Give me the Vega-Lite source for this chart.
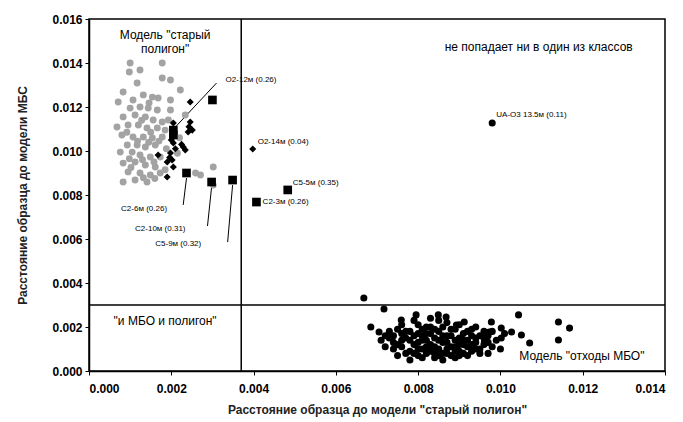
{
  "$schema": "https://vega.github.io/schema/vega-lite/v6.json",
  "autosize": "none",
  "width": 576,
  "height": 352,
  "padding": {"left": 89, "top": 19, "right": 18, "bottom": 51},
  "background": "white",
  "config": {
    "font": "Liberation Sans",
    "view": {"stroke": "black", "strokeWidth": 1.5},
    "axis": {"grid": false, "domainColor": "black", "tickColor": "black", "labelColor": "black", "titleColor": "#222222", "labelFont": "Liberation Sans", "titleFont": "Liberation Sans", "labelFontWeight": "bold", "labelFontSize": 12, "titleFontSize": 12, "titleFontWeight": "bold", "tickSize": 4, "domainWidth": 1.5}
  },
  "datasets": {
    "grey": [
      {"x":0.00100,"y":0.01400},{"x":0.00124,"y":0.01368},{"x":0.00098,"y":0.01359},{"x":0.00178,"y":0.01332},{"x":0.00198,"y":0.01323},{"x":0.00117,"y":0.01309},{"x":0.00083,"y":0.01268},{"x":0.00132,"y":0.01255},{"x":0.00154,"y":0.01245},{"x":0.00168,"y":0.01241},{"x":0.00198,"y":0.01232},{"x":0.00107,"y":0.01232},{"x":0.00071,"y":0.01223},{"x":0.00100,"y":0.01195},{"x":0.00124,"y":0.01200},{"x":0.00144,"y":0.01195},{"x":0.00166,"y":0.01186},{"x":0.00198,"y":0.01186},{"x":0.00083,"y":0.01155},{"x":0.00112,"y":0.01164},{"x":0.00137,"y":0.01155},{"x":0.00156,"y":0.01141},{"x":0.00178,"y":0.01132},{"x":0.00193,"y":0.01141},{"x":0.00068,"y":0.01109},{"x":0.00095,"y":0.01118},{"x":0.00120,"y":0.01118},{"x":0.00141,"y":0.01105},{"x":0.00166,"y":0.01105},{"x":0.00185,"y":0.01095},{"x":0.00080,"y":0.01073},{"x":0.00107,"y":0.01064},{"x":0.00132,"y":0.01064},{"x":0.00154,"y":0.01059},{"x":0.00178,"y":0.01064},{"x":0.00093,"y":0.01027},{"x":0.00117,"y":0.01027},{"x":0.00137,"y":0.01018},{"x":0.00161,"y":0.01027},{"x":0.00076,"y":0.00995},{"x":0.00105,"y":0.00995},{"x":0.00124,"y":0.00982},{"x":0.00149,"y":0.00973},{"x":0.00173,"y":0.00973},{"x":0.00083,"y":0.00945},{"x":0.00112,"y":0.00950},{"x":0.00137,"y":0.00936},{"x":0.00161,"y":0.00927},{"x":0.00095,"y":0.00905},{"x":0.00124,"y":0.00900},{"x":0.00149,"y":0.00891},{"x":0.00173,"y":0.00900},{"x":0.00083,"y":0.00859},{"x":0.00112,"y":0.00868},{"x":0.00141,"y":0.00859},{"x":0.00259,"y":0.00900},{"x":0.00271,"y":0.00891},{"x":0.00302,"y":0.00927},{"x":0.00302,"y":0.00845},{"x":0.00178,"y":0.01400},{"x":0.00222,"y":0.01277},{"x":0.00234,"y":0.01164},
      {"x":0.00146,"y":0.01218},{"x":0.00128,"y":0.01140},{"x":0.00150,"y":0.01085},{"x":0.00092,"y":0.01085},{"x":0.00118,"y":0.01045},{"x":0.00145,"y":0.01040},{"x":0.00170,"y":0.01045},{"x":0.00098,"y":0.00965},{"x":0.00130,"y":0.00960},{"x":0.00158,"y":0.00950},{"x":0.00102,"y":0.00925},{"x":0.00185,"y":0.00915},{"x":0.00132,"y":0.00878},{"x":0.00160,"y":0.00875},{"x":0.00188,"y":0.01010},{"x":0.00215,"y":0.00990},{"x":0.00220,"y":0.01060}
    ],
    "diamonds": [
      {"x":0.00246,"y":0.01223},{"x":0.00205,"y":0.01127},{"x":0.00246,"y":0.01132},{"x":0.00251,"y":0.01095},{"x":0.00205,"y":0.01064},{"x":0.00229,"y":0.01018},{"x":0.00234,"y":0.01005},{"x":0.00198,"y":0.00991},{"x":0.00168,"y":0.00982},{"x":0.00202,"y":0.00959},{"x":0.00190,"y":0.00950},{"x":0.00205,"y":0.00927},{"x":0.00190,"y":0.00882},{"x":0.00241,"y":0.01086},{"x":0.00205,"y":0.01036},{"x":0.00398,"y":0.01009},
      {"x":0.00210,"y":0.01010},{"x":0.00200,"y":0.01050},{"x":0.00243,"y":0.01110},{"x":0.00196,"y":0.00970},{"x":0.00225,"y":0.01030}
    ],
    "squares": [
      {"x":0.00300,"y":0.01232},{"x":0.00205,"y":0.01095},{"x":0.00205,"y":0.01073},{"x":0.00237,"y":0.00900},{"x":0.00298,"y":0.00859},{"x":0.00349,"y":0.00868},{"x":0.00407,"y":0.00768},{"x":0.00483,"y":0.00823}
    ],
    "circles": [
      {"x":0.0098,"y":0.01127},
      {"x":0.00668,"y":0.00332},{"x":0.00717,"y":0.00282},{"x":0.00759,"y":0.00232},{"x":0.00795,"y":0.00255},{"x":0.00849,"y":0.00255},{"x":0.00868,"y":0.00245},{"x":0.01044,"y":0.00255},{"x":0.01141,"y":0.00223},{"x":0.01168,"y":0.00195},{"x":0.01141,"y":0.00141},{"x":0.01071,"y":0.00127},{"x":0.00978,"y":0.00223},{"x":0.01002,"y":0.00195},{"x":0.01027,"y":0.00177},{"x":0.01051,"y":0.00164},{"x":0.00973,"y":0.00177},{"x":0.00961,"y":0.00132},{"x":0.01002,"y":0.00150},{"x":0.00912,"y":0.00223},{"x":0.00893,"y":0.00209},{"x":0.00685,"y":0.00200},{"x":0.00705,"y":0.00177},
      {"x":0.0072,"y":0.0016},{"x":0.0074,"y":0.0013},{"x":0.0075,"y":0.0019},{"x":0.0076,"y":0.0011},{"x":0.0077,"y":0.0015},{"x":0.0078,"y":0.0009},{"x":0.0078,"y":0.0018},{"x":0.0079,"y":0.0012},{"x":0.0080,"y":0.0021},{"x":0.0080,"y":0.0007},{"x":0.0081,"y":0.0014},{"x":0.0081,"y":0.0010},{"x":0.0082,"y":0.0017},{"x":0.0082,"y":0.0008},{"x":0.0083,"y":0.0012},{"x":0.0083,"y":0.0020},{"x":0.0084,"y":0.0015},{"x":0.0084,"y":0.0006},{"x":0.0085,"y":0.0010},{"x":0.0085,"y":0.0018},{"x":0.0086,"y":0.0013},{"x":0.0086,"y":0.0008},{"x":0.0087,"y":0.0022},{"x":0.0087,"y":0.0016},{"x":0.0088,"y":0.0011},{"x":0.0088,"y":0.0007},{"x":0.0089,"y":0.0014},{"x":0.0089,"y":0.0019},{"x":0.0090,"y":0.0009},{"x":0.0090,"y":0.0012},{"x":0.0091,"y":0.0017},{"x":0.0091,"y":0.0008},{"x":0.0092,"y":0.0014},{"x":0.0092,"y":0.0011},{"x":0.0093,"y":0.0019},{"x":0.0093,"y":0.0009},{"x":0.0094,"y":0.0013},{"x":0.0095,"y":0.0016},{"x":0.0095,"y":0.0010},{"x":0.0096,"y":0.0012},{"x":0.0097,"y":0.0008},{"x":0.0071,"y":0.0014},{"x":0.0073,"y":0.0018},{"x":0.0074,"y":0.0010},{"x":0.0076,"y":0.0021},{"x":0.0077,"y":0.0008},{"x":0.0079,"y":0.0016},{"x":0.0080,"y":0.0013},{"x":0.0082,"y":0.0011},{"x":0.0083,"y":0.0009},{"x":0.0084,"y":0.0019},{"x":0.0085,"y":0.0014},{"x":0.0086,"y":0.0020},{"x":0.0087,"y":0.0010},{"x":0.0088,"y":0.0016},{"x":0.0089,"y":0.0009},{"x":0.0090,"y":0.0015},{"x":0.0091,"y":0.0012},{"x":0.0092,"y":0.0007},{"x":0.0093,"y":0.0016},{"x":0.0094,"y":0.0010},{"x":0.0096,"y":0.0015},{"x":0.0098,"y":0.0011},{"x":0.0099,"y":0.0014},{"x":0.0100,"y":0.0010},{"x":0.0101,"y":0.0017},{"x":0.0098,"y":0.0018},{"x":0.0075,"y":0.0007},{"x":0.0078,"y":0.0005},{"x":0.0081,"y":0.0006},{"x":0.0086,"y":0.0005},{"x":0.0089,"y":0.0006},{"x":0.0072,"y":0.0011},{"x":0.0079,"y":0.0023},{"x":0.0085,"y":0.0023},{"x":0.0090,"y":0.0021},{"x":0.0083,"y":0.0024},{"x":0.0094,"y":0.0020},{"x":0.0076,"y":0.0017},{"x":0.0081,"y":0.0019},
      {"x":0.0073,"y":0.0015},{"x":0.0075,"y":0.0012},{"x":0.0077,"y":0.0018},{"x":0.0079,"y":0.0008},{"x":0.0080,"y":0.0010},{"x":0.0082,"y":0.0014},{"x":0.0084,"y":0.0011},{"x":0.0084,"y":0.0008},{"x":0.0086,"y":0.0016},{"x":0.0087,"y":0.0013},{"x":0.0088,"y":0.0019},{"x":0.0089,"y":0.0011},{"x":0.0090,"y":0.0007},{"x":0.0091,"y":0.0014},{"x":0.0092,"y":0.0018},{"x":0.0093,"y":0.0012},{"x":0.0094,"y":0.0015},{"x":0.0095,"y":0.0008},{"x":0.0097,"y":0.0013},{"x":0.0097,"y":0.0016},{"x":0.0078,"y":0.0014},{"x":0.0081,"y":0.0016},{"x":0.0083,"y":0.0017},{"x":0.0085,"y":0.0007},{"x":0.0087,"y":0.0008},{"x":0.0076,"y":0.0014},{"x":0.0074,"y":0.0016},{"x":0.0080,"y":0.0017},{"x":0.0082,"y":0.0020},{"x":0.0096,"y":0.0018}
    ],
    "leaders": [
      {"x":0.00237,"y":0.00877,"x2":0.00229,"y2":0.00755},
      {"x":0.00298,"y":0.00836,"x2":0.00288,"y2":0.00659},
      {"x":0.00349,"y":0.00845,"x2":0.00337,"y2":0.00586},
      {"x":0.00310,"y":0.01309,"x2":0.00210,"y2":0.01109}
    ],
    "small": [
      {"x":0.00332,"y":0.01323,"t":"O2-12м (0.26)"},
      {"x":0.00410,"y":0.01041,"t":"O2-14м (0.04)"},
      {"x":0.00495,"y":0.00855,"t":"C5-5м (0.35)"},
      {"x":0.00422,"y":0.00768,"t":"C2-3м (0.26)"},
      {"x":0.00990,"y":0.01164,"t":"UA-O3 13.5м (0.11)"},
      {"x":0.00078,"y":0.00736,"t":"C2-6м (0.26)"},
      {"x":0.00112,"y":0.00645,"t":"C2-10м (0.31)"},
      {"x":0.00161,"y":0.00577,"t":"C5-9м (0.32)"}
    ],
    "big": [
      {"x":0.00185,"y":0.01527,"t":["Модель \"старый","полигон\""]},
      {"x":0.01093,"y":0.01473,"t":["не попадает ни в один из классов"]},
      {"x":0.00185,"y":0.00227,"t":["\"и МБО и полигон\""]},
      {"x":0.01198,"y":0.00068,"t":["Модель \"отходы МБО\""]}
    ],
    "vline": [{"x":0.0037,"y":0,"y2":0.016}],
    "hline": [{"y":0.003,"x":0,"x2":0.014}]
  },
  "layer": [
    {
      "data": {"name": "vline"},
      "mark": {"type": "rule", "color": "black", "strokeWidth": 1.5},
      "encoding": {
        "x": {"field": "x", "type": "quantitative", "scale": {"domain": [0, 0.014], "nice": false}, "axis": {"values": [0,0.002,0.004,0.006,0.008,0.010,0.012,0.014], "format": ".3f", "title": "Расстояние образца до модели \"старый полигон\"", "labelPadding": 8, "titlePadding": 10}},
        "y": {"field": "y", "type": "quantitative", "scale": {"domain": [0, 0.016], "nice": false}, "axis": {"values": [0,0.002,0.004,0.006,0.008,0.010,0.012,0.014,0.016], "format": ".3f", "title": "Расстояние образца до модели  МБС", "labelPadding": 3, "titlePadding": 22}},
        "y2": {"field": "y2"}
      }
    },
    {
      "data": {"name": "hline"},
      "mark": {"type": "rule", "color": "black", "strokeWidth": 1.5},
      "encoding": {
        "y": {"field": "y", "type": "quantitative"},
        "x": {"field": "x", "type": "quantitative"},
        "x2": {"field": "x2"}
      }
    },
    {
      "data": {"name": "leaders"},
      "mark": {"type": "rule", "color": "black", "strokeWidth": 1},
      "encoding": {
        "x": {"field": "x", "type": "quantitative"},
        "y": {"field": "y", "type": "quantitative"},
        "x2": {"field": "x2"},
        "y2": {"field": "y2"}
      }
    },
    {
      "data": {"name": "grey"},
      "mark": {"type": "circle", "color": "#a3a3a3", "opacity": 1, "size": 48},
      "encoding": {"x": {"field": "x", "type": "quantitative"}, "y": {"field": "y", "type": "quantitative"}}
    },
    {
      "data": {"name": "circles"},
      "mark": {"type": "circle", "color": "black", "opacity": 1, "size": 50},
      "encoding": {"x": {"field": "x", "type": "quantitative"}, "y": {"field": "y", "type": "quantitative"}}
    },
    {
      "data": {"name": "diamonds"},
      "mark": {"type": "point", "shape": "diamond", "filled": true, "color": "black", "opacity": 1, "size": 50},
      "encoding": {"x": {"field": "x", "type": "quantitative"}, "y": {"field": "y", "type": "quantitative"}}
    },
    {
      "data": {"name": "squares"},
      "mark": {"type": "square", "color": "black", "opacity": 1, "size": 75},
      "encoding": {"x": {"field": "x", "type": "quantitative"}, "y": {"field": "y", "type": "quantitative"}}
    },
    {
      "data": {"name": "small"},
      "mark": {"type": "text", "align": "left", "baseline": "middle", "fontSize": 8, "color": "black", "font": "Liberation Sans"},
      "encoding": {"x": {"field": "x", "type": "quantitative"}, "y": {"field": "y", "type": "quantitative"}, "text": {"field": "t"}}
    },
    {
      "data": {"name": "big"},
      "mark": {"type": "text", "align": "center", "baseline": "middle", "fontSize": 12, "lineHeight": 14, "color": "black", "font": "Liberation Sans"},
      "encoding": {"x": {"field": "x", "type": "quantitative"}, "y": {"field": "y", "type": "quantitative"}, "text": {"field": "t"}}
    }
  ]
}
